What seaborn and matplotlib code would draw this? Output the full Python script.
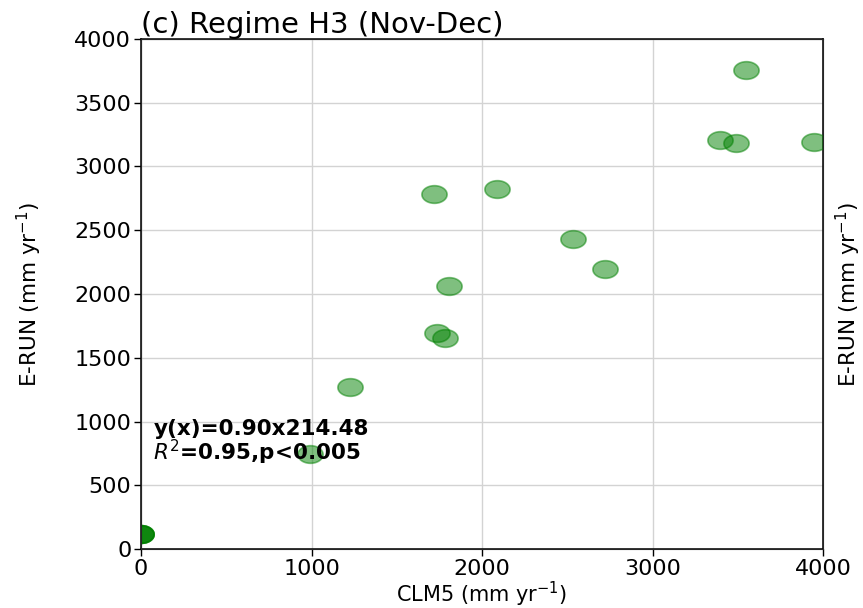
import numpy as np
import pandas as pd
import matplotlib
matplotlib.use("Agg")
import matplotlib.pyplot as plt
from matplotlib.path import Path
import seaborn as sns

# Data
clm5 = [0, 0, 0, 0, 991, 1226, 1718, 1738, 1785, 1808, 2088, 2534, 2720, 3398, 3490, 3548, 3949]
erun = [118, 118, 118, 118, 749, 1271, 2785, 1697, 1655, 2065, 2827, 2433, 2195, 3208, 3187, 3756, 3190]
x_ticks = [0, 1000, 2000, 3000, 4000]
y_ticks = [0, 500, 1000, 1500, 2000, 2500, 3000, 3500, 4000]
title = "(c) Regime H3 (Nov-Dec)"
eq_line1 = "y(x)=0.90x214.48"
eq_line2 = r"$R^2$=0.95,p<0.005"

df = pd.DataFrame({"CLM5": clm5, "ERUN": erun})

sns.set_style("ticks")
plt.rcParams["font.family"] = ["DejaVu Sans"]
plt.rcParams["text.color"] = "black"
plt.rcParams["axes.labelcolor"] = "black"

fig = plt.figure(figsize=(8.63, 6.08), dpi=100)
ax = fig.add_axes([0.1634, 0.097, 0.9537 - 0.1634, 0.9359 - 0.097])

# ellipse marker (image is horizontally stretched)
t = np.linspace(0, 2 * np.pi, 60)
verts = np.column_stack([np.cos(t), 0.7 * np.sin(t)])
ell = Path(verts, closed=True)

sns.scatterplot(data=df, x="CLM5", y="ERUN", ax=ax, marker=ell, s=330,
                color="green", alpha=0.5, edgecolor="green", linewidth=1.2,
                legend=False, zorder=3)

ax.set_xlim(0, 4000)
ax.set_ylim(0, 4000)
ax.set_xticks(x_ticks)
ax.set_yticks(y_ticks)
ax.tick_params(labelsize=16, length=5, width=1, colors="black", pad=2)
ax.grid(True, color="#d3d3d3", linewidth=1)
ax.set_axisbelow(True)
for sp in ax.spines.values():
    sp.set_color("black")
    sp.set_linewidth(1.1)

ax.set_xlabel(r"CLM5 (mm yr$^{-1}$)", fontsize=15, labelpad=1)
ax.set_ylabel(r"E-RUN (mm yr$^{-1}$)", fontsize=15.5, labelpad=22)
ax.set_title(title, loc="left", fontsize=21, pad=3)

ax2 = ax.twinx()
ax2.set_ylim(0, 4000)
ax2.set_yticks([])
ax2.set_ylabel(r"E-RUN (mm yr$^{-1}$)", fontsize=15.5, labelpad=8)

ax.text(0.018, 0.255, eq_line1 + "\n" + eq_line2, transform=ax.transAxes,
        fontsize=15.5, fontweight="bold", va="top", ha="left",
        linespacing=0.95, zorder=5)

fig.savefig("out.png", dpi=100)
